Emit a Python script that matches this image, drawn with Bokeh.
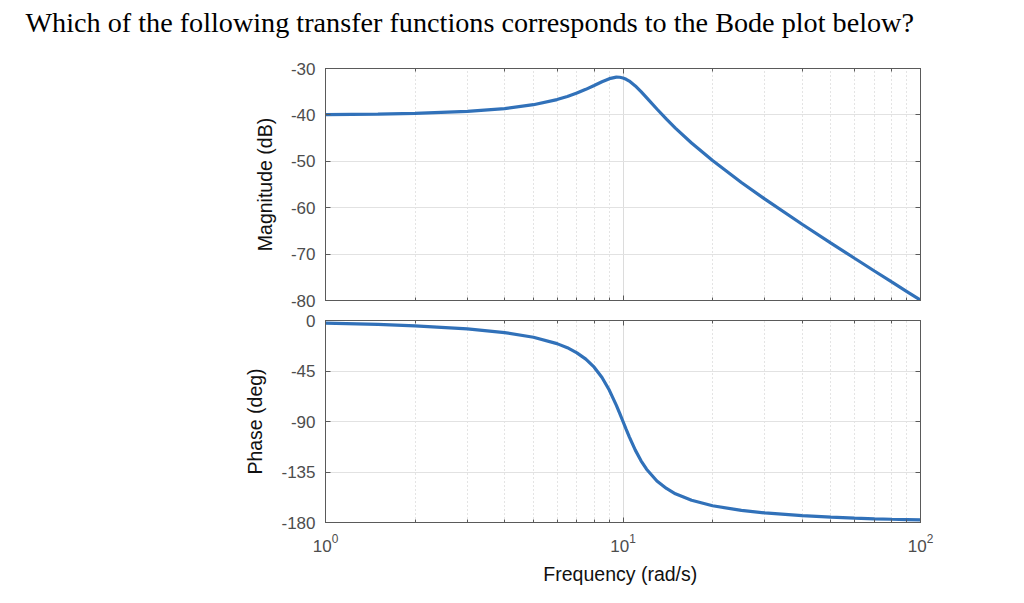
from bokeh.plotting import figure
from bokeh.models import Range1d, LogAxis, LinearAxis, FixedTicker
from bokeh.layouts import column
from bokeh.embed import file_html
from bokeh.resources import INLINE

# ---- data ----
freq = [1, 1.5, 2, 3, 4, 5, 6, 6.5, 7, 7.5, 8, 8.5, 9, 9.5, 9.75, 10, 10.25, 10.5,
        11, 11.5, 12, 13, 14, 15, 17, 20, 25, 30, 40, 50, 60, 70, 80, 90, 100]
mag_db = [-39.92, -39.82, -39.68, -39.26, -38.64, -37.80, -36.70, -36.03, -35.30,
          -34.49, -33.66, -32.85, -32.19, -31.87, -31.89, -32.04, -32.32, -32.72,
          -33.76, -34.99, -36.27, -38.73, -40.92, -42.84, -46.06, -49.84, -54.56,
          -58.16, -63.57, -67.63, -70.90, -73.64, -76.00, -78.07, -79.92]
phase_deg = [-2.3, -3.5, -4.8, -7.5, -10.8, -14.9, -20.6, -24.2, -28.8, -34.4,
             -41.6, -50.8, -62.2, -75.6, -82.8, -90.0, -97.0, -103.7, -115.5,
             -125.0, -132.5, -143.0, -149.7, -154.4, -160.2, -165.1, -169.2,
             -171.5, -173.9, -175.2, -176.1, -176.7, -177.1, -177.4, -177.7]
mag_ticks = [-80, -70, -60, -50, -40, -30]
phase_ticks = [-180, -135, -90, -45, 0]
title_text = "Which of the following transfer functions corresponds to the Bode plot below?"
mag_label = "Magnitude (dB)"
phase_label = "Phase (deg)"
freq_label = "Frequency  (rad/s)"

AX = "#5a5a5a"
LINE = "#3171b9"
FONT = "Liberation Sans"


def style_axis(ax, labels=True, minor=True):
    ax.axis_line_color = AX
    ax.major_tick_line_color = AX
    ax.minor_tick_line_color = AX if minor else None
    ax.major_tick_in = 5
    ax.major_tick_out = 0
    ax.minor_tick_in = 3
    ax.minor_tick_out = 0
    ax.major_label_text_font = FONT
    ax.major_label_text_color = "#4d4d4d"
    if labels:
        ax.major_label_text_font_size = "17px"
        ax.major_label_standoff = 10
    else:
        ax.major_label_text_font_size = "1px"
        ax.major_label_text_alpha = 0
        ax.major_label_standoff = 0
    ax.axis_label_text_font = FONT
    ax.axis_label_text_font_style = "normal"
    ax.axis_label_text_font_size = "19.5px"
    ax.axis_label_text_color = "#111111"


def style_grid(p):
    p.xgrid.grid_line_color = "#dcdcdc"
    p.xgrid.minor_grid_line_color = "#c8c8c8"
    p.xgrid.minor_grid_line_dash = "1 3"
    p.ygrid.grid_line_color = "#e2e2e2"
    p.outline_line_color = AX


# ---- question text: a title-only strip ----
p0 = figure(width=1024, height=46, output_backend="svg", toolbar_location=None,
            x_axis_location=None, y_axis_location=None,
            min_border_left=0, min_border_right=0, min_border_top=0,
            min_border_bottom=0)
p0.title.text = title_text
p0.title.text_font = "Liberation Serif"
p0.title.text_font_size = "28.2px"
p0.title.text_font_style = "normal"
p0.title.text_color = "black"
p0.title.align = "left"
p0.title.offset = -300
p0.title.standoff = 8
p0.grid.visible = False
p0.outline_line_color = None

xr = Range1d(1, 100)

p1 = figure(width=1024, height=264, x_axis_type="log", x_range=xr,
            y_range=Range1d(-80, -30), output_backend="svg", toolbar_location=None,
            min_border_left=325, min_border_right=104, min_border_top=22,
            min_border_bottom=10)
p1.yaxis.ticker = FixedTicker(ticks=mag_ticks)
p1.yaxis.major_label_overrides = {t: str(t) for t in mag_ticks}
p1.yaxis.axis_label = mag_label
for ax in p1.yaxis:
    style_axis(ax, True, False)
    ax.axis_label_standoff = 12
for ax in p1.xaxis:
    style_axis(ax, False)
p1.add_layout(LogAxis(), "above")
p1.add_layout(LinearAxis(ticker=FixedTicker(ticks=mag_ticks)), "right")
style_axis(p1.above[-1], False)
style_axis(p1.right[-1], False, False)
style_grid(p1)
p1.line(freq, mag_db, line_color=LINE, line_width=3.2)

p2 = figure(width=1024, height=292, x_axis_type="log", x_range=xr,
            y_range=Range1d(-180, 0), output_backend="svg", toolbar_location=None,
            min_border_left=325, min_border_right=104, min_border_top=10,
            min_border_bottom=80)
p2.yaxis.ticker = FixedTicker(ticks=phase_ticks)
p2.yaxis.major_label_overrides = {t: str(t) for t in phase_ticks}
p2.yaxis.axis_label = phase_label
for ax in p2.yaxis:
    style_axis(ax, True, False)
    ax.axis_label_standoff = 12
p2.xaxis.axis_label = freq_label
for ax in p2.xaxis:
    style_axis(ax, True)
    ax.major_label_standoff = 11
    ax.axis_label_standoff = 8
p2.add_layout(LogAxis(), "above")
p2.add_layout(LinearAxis(ticker=FixedTicker(ticks=phase_ticks)), "right")
style_axis(p2.above[-1], False)
style_axis(p2.right[-1], False, False)
style_grid(p2)
p2.line(freq, phase_deg, line_color=LINE, line_width=3.2)

layout = column(p0, p1, p2)
open("out.html", "w").write(file_html(layout, INLINE))
